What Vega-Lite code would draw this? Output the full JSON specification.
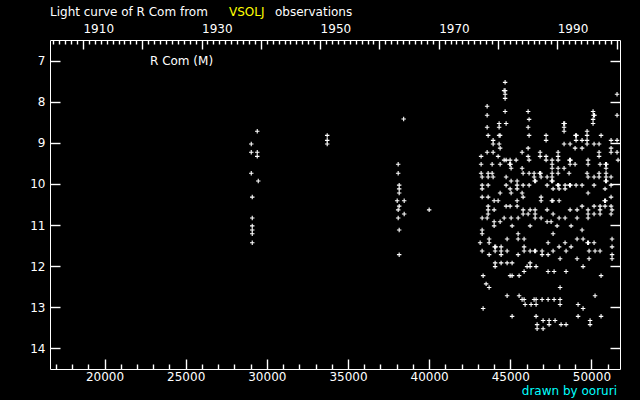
{
"$schema": "https://vega.github.io/schema/vega-lite/v6.json",
"width": 570, "height": 329,
"autosize": {"type": "none"},
"padding": {"left": 50, "top": 40, "right": 20, "bottom": 31},
"background": "black",
"config": {
  "view": {"stroke": "white", "strokeWidth": 1},
  "axis": {"domain": false, "grid": false, "labelColor": "white", "labelFont": "DejaVu Sans", "labelFontSize": 12, "labelOverlap": false, "labelFlush": false, "title": null},
  "text": {"font": "DejaVu Sans", "fontSize": 12}
},
"resolve": {"scale": {"x": "independent", "y": "independent"}},
"layer": [
  {"data": {"values": [
{"jd":29409,"m":8.72},{"jd":33720,"m":8.82},{"jd":33720,"m":8.94},{"jd":33720,"m":9.03},{"jd":29040,"m":9.03},{"jd":29040,"m":9.23},{"jd":29409,"m":9.23},{"jd":29409,"m":9.33},{"jd":29040,"m":9.74},{"jd":29471,"m":9.93},{"jd":29101,"m":10.32},{"jd":29101,"m":10.83},{"jd":29101,"m":11.02},{"jd":29101,"m":11.12},{"jd":29101,"m":11.21},{"jd":29101,"m":11.43},
{"jd":38092,"m":9.52},{"jd":38092,"m":9.74},{"jd":38154,"m":10.03},{"jd":38154,"m":10.12},{"jd":38154,"m":10.22},{"jd":38031,"m":10.41},{"jd":38462,"m":10.41},{"jd":38154,"m":10.54},{"jd":38092,"m":10.63},{"jd":40001,"m":10.63},{"jd":38462,"m":10.73},{"jd":38092,"m":10.83},{"jd":38154,"m":11.12},{"jd":38154,"m":11.72},{"jd":38431,"m":8.42},
{"jd":44681,"m":7.53},{"jd":44620,"m":7.73},{"jd":44681,"m":7.73},{"jd":44681,"m":7.82},{"jd":44681,"m":7.92},{"jd":43573,"m":8.11},{"jd":43573,"m":8.33},{"jd":44681,"m":8.24},{"jd":46098,"m":8.24},{"jd":46159,"m":8.43},{"jd":44312,"m":8.53},{"jd":44743,"m":8.53},{"jd":43573,"m":8.62},{"jd":44312,"m":8.62},{"jd":46098,"m":8.62},{"jd":43634,"m":8.82},{"jd":44312,"m":8.82},{"jd":44373,"m":8.82},{"jd":46159,"m":8.82},{"jd":47206,"m":8.82},{"jd":47206,"m":8.94},{"jd":43942,"m":8.94},{"jd":43942,"m":9.03},{"jd":44312,"m":9.03},{"jd":44373,"m":9.13},{"jd":46098,"m":9.13},{"jd":43573,"m":9.23},{"jd":43942,"m":9.23},{"jd":45728,"m":9.23},{"jd":46837,"m":9.23},{"jd":43203,"m":9.33},{"jd":44250,"m":9.33},{"jd":46098,"m":9.33},{"jd":46837,"m":9.33},{"jd":47206,"m":9.33},{"jd":44620,"m":9.42},{"jd":44743,"m":9.42},{"jd":44989,"m":9.42},{"jd":45359,"m":9.42},{"jd":46159,"m":9.42},{"jd":47206,"m":9.42},{"jd":43203,"m":9.52},{"jd":43881,"m":9.52},{"jd":44373,"m":9.52},{"jd":44960,"m":9.52},{"jd":45020,"m":9.52},{"jd":45051,"m":9.62},{"jd":45728,"m":9.62},{"jd":43203,"m":9.74},{"jd":43634,"m":9.74},{"jd":43881,"m":9.74},{"jd":45790,"m":9.74},{"jd":46159,"m":9.74},{"jd":46467,"m":9.74},{"jd":46810,"m":9.74},{"jd":46870,"m":9.74},{"jd":43265,"m":9.83},{"jd":43634,"m":9.83},{"jd":43942,"m":9.83},{"jd":44743,"m":9.83},{"jd":46467,"m":9.83},{"jd":46898,"m":9.83},{"jd":47268,"m":9.83},{"jd":45051,"m":9.93},{"jd":45420,"m":9.93},{"jd":46500,"m":9.93},{"jd":46560,"m":9.93},{"jd":43265,"m":10.03},{"jd":43634,"m":10.03},{"jd":44743,"m":10.03},{"jd":45420,"m":10.03},{"jd":45790,"m":10.03},{"jd":46159,"m":10.03},{"jd":47268,"m":10.03},{"jd":43265,"m":10.12},{"jd":44989,"m":10.12},{"jd":45420,"m":10.12},{"jd":44373,"m":10.22},{"jd":45051,"m":10.22},{"jd":45728,"m":10.22},{"jd":43265,"m":10.32},{"jd":43634,"m":10.32},{"jd":45790,"m":10.32},{"jd":46898,"m":10.32},{"jd":44004,"m":10.41},{"jd":44250,"m":10.41},{"jd":45420,"m":10.41},{"jd":46898,"m":10.41},
{"jd":43634,"m":10.54},{"jd":44743,"m":10.54},{"jd":44989,"m":10.54},{"jd":45420,"m":10.54},{"jd":43634,"m":10.63},{"jd":44004,"m":10.63},{"jd":45790,"m":10.63},{"jd":46221,"m":10.63},{"jd":46529,"m":10.63},{"jd":47268,"m":10.63},{"jd":43634,"m":10.73},{"jd":45790,"m":10.73},{"jd":46098,"m":10.73},{"jd":46529,"m":10.73},{"jd":43265,"m":10.83},{"jd":43573,"m":10.83},{"jd":44620,"m":10.83},{"jd":45051,"m":10.83},{"jd":45482,"m":10.83},{"jd":46529,"m":10.83},{"jd":46898,"m":10.83},{"jd":44004,"m":10.92},{"jd":44373,"m":10.92},{"jd":47268,"m":10.92},{"jd":44004,"m":11.02},{"jd":45112,"m":11.02},{"jd":46221,"m":11.02},{"jd":43265,"m":11.12},{"jd":43265,"m":11.21},{"jd":45482,"m":11.21},{"jd":43696,"m":11.34},{"jd":44804,"m":11.34},{"jd":45482,"m":11.34},{"jd":45851,"m":11.34},{"jd":43142,"m":11.43},{"jd":43696,"m":11.43},{"jd":47329,"m":11.43},{"jd":44040,"m":11.53},{"jd":44100,"m":11.53},{"jd":44435,"m":11.53},{"jd":45851,"m":11.53},{"jd":43265,"m":11.63},{"jd":44066,"m":11.63},{"jd":44435,"m":11.63},{"jd":44804,"m":11.63},{"jd":45851,"m":11.63},{"jd":46221,"m":11.63},{"jd":46500,"m":11.63},{"jd":46560,"m":11.63},{"jd":46960,"m":11.63},{"jd":43696,"m":11.72},{"jd":44435,"m":11.72},{"jd":45482,"m":11.72},{"jd":46960,"m":11.72},{"jd":47329,"m":11.72},{"jd":44066,"m":11.92},{"jd":44435,"m":11.92},{"jd":44804,"m":11.92},{"jd":45112,"m":11.92},{"jd":46221,"m":11.92},{"jd":44066,"m":12.01},{"jd":46036,"m":12.01},{"jd":46221,"m":12.01},{"jd":46590,"m":12.01},{"jd":47329,"m":12.13},{"jd":45851,"m":12.13},{"jd":43326,"m":12.23},{"jd":44989,"m":12.23},{"jd":45112,"m":12.23},{"jd":45543,"m":12.23},{"jd":43511,"m":12.43},{"jd":43696,"m":12.52},{"jd":44804,"m":12.72},{"jd":45543,"m":12.72},{"jd":45728,"m":12.81},{"jd":45851,"m":12.81},{"jd":46467,"m":12.81},{"jd":46590,"m":12.81},{"jd":46960,"m":12.81},{"jd":47329,"m":12.81},{"jd":45913,"m":12.93},{"jd":46282,"m":12.93},{"jd":46590,"m":12.93},{"jd":43326,"m":13.03},{"jd":45112,"m":13.22},{"jd":46590,"m":13.22},{"jd":47021,"m":13.32},{"jd":47391,"m":13.32},{"jd":46652,"m":13.42},{"jd":47391,"m":13.42},{"jd":46652,"m":13.52},{"jd":47021,"m":13.52},
{"jd":51578,"m":7.82},{"jd":51578,"m":8.33},{"jd":50100,"m":8.24},{"jd":50130,"m":8.33},{"jd":50190,"m":8.33},{"jd":50100,"m":8.43},{"jd":50100,"m":8.53},{"jd":48290,"m":8.53},{"jd":48350,"m":8.53},{"jd":48314,"m":8.62},{"jd":48314,"m":8.72},{"jd":49731,"m":8.72},{"jd":49731,"m":8.82},{"jd":49020,"m":8.82},{"jd":49080,"m":8.82},{"jd":50593,"m":8.82},{"jd":49053,"m":8.94},{"jd":49423,"m":8.94},{"jd":49731,"m":8.94},{"jd":51209,"m":8.94},{"jd":51578,"m":8.94},{"jd":48314,"m":9.03},{"jd":48684,"m":9.03},{"jd":49731,"m":9.03},{"jd":50162,"m":9.03},{"jd":50470,"m":9.03},{"jd":48992,"m":9.13},{"jd":49423,"m":9.13},{"jd":51209,"m":9.13},{"jd":47945,"m":9.23},{"jd":50470,"m":9.23},{"jd":51209,"m":9.23},{"jd":51578,"m":9.23},{"jd":47945,"m":9.33},{"jd":50470,"m":9.33},{"jd":47576,"m":9.42},{"jd":47945,"m":9.42},{"jd":48650,"m":9.42},{"jd":48710,"m":9.42},{"jd":49792,"m":9.42},{"jd":51640,"m":9.42},{"jd":47576,"m":9.52},{"jd":48684,"m":9.52},{"jd":48992,"m":9.52},{"jd":49792,"m":9.52},{"jd":50531,"m":9.52},{"jd":50870,"m":9.52},{"jd":50930,"m":9.52},{"jd":47576,"m":9.62},{"jd":47945,"m":9.62},{"jd":48314,"m":9.62},{"jd":50901,"m":9.62},{"jd":47576,"m":9.74},{"jd":47945,"m":9.74},{"jd":48622,"m":9.74},{"jd":49731,"m":9.74},{"jd":50470,"m":9.74},{"jd":50901,"m":9.74},{"jd":47576,"m":9.83},{"jd":49792,"m":9.83},{"jd":50162,"m":9.83},{"jd":50470,"m":9.83},{"jd":50901,"m":9.83},{"jd":51209,"m":9.83},{"jd":47550,"m":9.93},{"jd":47610,"m":9.93},{"jd":50870,"m":9.93},{"jd":50930,"m":9.93},{"jd":47920,"m":10.03},{"jd":47980,"m":10.03},{"jd":48376,"m":10.03},{"jd":48650,"m":10.03},{"jd":48710,"m":10.03},{"jd":49053,"m":10.03},{"jd":49423,"m":10.03},{"jd":50162,"m":10.03},{"jd":51209,"m":10.03},{"jd":47637,"m":10.12},{"jd":48007,"m":10.12},{"jd":48376,"m":10.12},{"jd":50839,"m":10.12},{"jd":49792,"m":10.22},{"jd":51209,"m":10.32},{"jd":47560,"m":10.41},{"jd":47620,"m":10.41},{"jd":48007,"m":10.41},{"jd":50810,"m":10.41},{"jd":50870,"m":10.41},
{"jd":47637,"m":10.73},{"jd":48007,"m":10.83},{"jd":48376,"m":10.83},{"jd":48684,"m":10.63},{"jd":49115,"m":10.63},{"jd":49423,"m":10.54},{"jd":49792,"m":10.63},{"jd":49792,"m":10.73},{"jd":49792,"m":10.83},{"jd":50162,"m":10.54},{"jd":50162,"m":10.73},{"jd":50531,"m":10.54},{"jd":50531,"m":10.63},{"jd":50531,"m":10.73},{"jd":50839,"m":10.54},{"jd":51209,"m":10.54},{"jd":51270,"m":10.63},{"jd":51209,"m":10.73},{"jd":49115,"m":10.83},{"jd":47514,"m":10.92},{"jd":47883,"m":11.02},{"jd":48746,"m":11.02},{"jd":49423,"m":11.12},{"jd":47637,"m":11.21},{"jd":49115,"m":11.34},{"jd":49485,"m":11.34},{"jd":48376,"m":11.43},{"jd":49760,"m":11.43},{"jd":49820,"m":11.43},{"jd":50162,"m":11.43},{"jd":51270,"m":11.34},{"jd":48007,"m":11.53},{"jd":48746,"m":11.53},{"jd":51270,"m":11.53},{"jd":47637,"m":11.63},{"jd":48438,"m":11.63},{"jd":49854,"m":11.63},{"jd":50223,"m":11.63},{"jd":50531,"m":11.63},{"jd":51270,"m":11.72},{"jd":48068,"m":11.82},{"jd":49115,"m":11.82},{"jd":49854,"m":11.82},{"jd":51270,"m":11.82},{"jd":49485,"m":12.01},{"jd":47699,"m":12.13},{"jd":48438,"m":12.13},{"jd":50593,"m":12.23},{"jd":48068,"m":12.52},{"jd":50223,"m":12.72},{"jd":47699,"m":12.81},{"jd":48068,"m":12.81},{"jd":48068,"m":12.93},{"jd":49177,"m":12.93},{"jd":49485,"m":13.03},{"jd":49177,"m":13.22},{"jd":50593,"m":13.22},{"jd":47760,"m":13.32},{"jd":49916,"m":13.32},{"jd":48130,"m":13.42},{"jd":48438,"m":13.42},{"jd":49916,"m":13.42}
  ]},
   "mark": {"type": "point", "shape": "M-1,0H1M0,-1V1", "filled": false, "stroke": "white", "strokeWidth": 1.1, "size": 20, "opacity": 1},
   "encoding": {
     "x": {"field": "jd", "type": "quantitative", "scale": {"domain": [16640, 51760], "nice": false, "zero": false},
       "axis": {"orient": "bottom", "values": [20000,25000,30000,35000,40000,45000,50000], "tickSize": -10, "tickColor": "white", "tickWidth": 1.4, "labelPadding": 12, "format": "d", "labelOverlap": false, "labelFlush": false}},
     "y": {"field": "m", "type": "quantitative", "scale": {"domain": [6.5, 14.5], "reverse": true, "nice": false, "zero": false},
       "axis": {"orient": "left", "values": [7,8,9,10,11,12,13,14], "tickSize": -10, "tickColor": "white", "tickWidth": 1.4, "labelPadding": 15, "labelOverlap": false, "labelFlush": false}}
   }},
  {"data": {"values": [{"t": "Light curve of R Com from", "x": 16640, "c": "w"}, {"t": "VSOLJ", "x": 27668, "c": "y"}, {"t": "observations", "x": 30502, "c": "w"}]},
   "mark": {"type": "text", "align": "left", "baseline": "middle"},
   "encoding": {"text": {"field": "t"},
     "x": {"field": "x", "type": "quantitative", "scale": {"domain": [16640, 51760], "nice": false, "zero": false}, "axis": null},
     "y": {"datum": 5.82, "type": "quantitative", "scale": {"domain": [6.5, 14.5], "reverse": true, "nice": false, "zero": false}, "axis": null},
     "color": {"field": "c", "type": "nominal", "scale": {"domain": ["w", "y"], "range": ["#ffffff", "#ffff00"]}, "legend": null}}},
  {"data": {"values": [{}]}, "mark": {"type": "text", "text": "R Com (M)", "align": "left", "baseline": "middle", "color": "white"},
   "encoding": {"x": {"datum": 22801, "type": "quantitative", "scale": {"domain": [16640, 51760], "nice": false, "zero": false}, "axis": null},
     "y": {"datum": 7.0, "type": "quantitative", "scale": {"domain": [6.5, 14.5], "reverse": true, "nice": false, "zero": false}, "axis": null}}},
  {"data": {"values": [{}]}, "mark": {"type": "text", "text": "drawn by ooruri", "align": "right", "baseline": "middle", "color": "#00ffff"},
   "encoding": {"x": {"datum": 51574, "type": "quantitative", "scale": {"domain": [16640, 51760], "nice": false, "zero": false}, "axis": null},
     "y": {"datum": 15.03, "type": "quantitative", "scale": {"domain": [6.5, 14.5], "reverse": true, "nice": false, "zero": false}, "axis": null}}},
 {"data": {"values": [{}]},
  "mark": {"type": "point", "opacity": 0},
  "encoding": {
    "x": {"datum": 30000, "type": "quantitative", "scale": {"domain": [16640, 51760], "nice": false, "zero": false},
      "axis": {"orient": "bottom", "values": [17000,18000,19000,21000,22000,23000,24000,26000,27000,28000,29000,31000,32000,33000,34000,36000,37000,38000,39000,41000,42000,43000,44000,46000,47000,48000,49000,51000], "tickSize": -5, "tickColor": "white", "tickWidth": 1.4, "labels": false}},
    "y": {"datum": 10, "type": "quantitative", "scale": {"domain": [6.5, 14.5], "reverse": true, "nice": false, "zero": false},
      "axis": {"orient": "right", "values": [7,8,9,10,11,12,13,14], "tickSize": -10, "tickColor": "white", "tickWidth": 1.4, "labels": false}}
  }},
 {"data": {"values": [{}]},
  "mark": {"type": "point", "opacity": 0},
  "encoding": {
    "x": {"datum": 1950, "type": "quantitative", "scale": {"domain": [1904.435, 2000.59], "nice": false, "zero": false},
      "axis": {"orient": "top", "values": [1910,1920,1930,1940,1950,1960,1970,1980,1990,2000], "tickSize": -9, "tickColor": "white", "tickWidth": 1.4,
        "labelExpr": "datum.value % 20 === 10 ? format(datum.value, 'd') : ''", "labelAlign": "left", "labelBaseline": "alphabetic", "labelPadding": 17, "labelOverlap": false, "labelFlush": false}},
    "y": {"datum": 10, "type": "quantitative", "scale": {"domain": [6.5, 14.5], "reverse": true, "nice": false, "zero": false}, "axis": null}
  }},
 {"data": {"values": [{}]},
  "mark": {"type": "point", "opacity": 0},
  "encoding": {
    "x": {"datum": 1950, "type": "quantitative", "scale": {"domain": [1904.435, 2000.59], "nice": false, "zero": false},
      "axis": {"orient": "top", "values": [1905,1906,1907,1908,1909,1911,1912,1913,1914,1915,1916,1917,1918,1919,1921,1922,1923,1924,1925,1926,1927,1928,1929,1931,1932,1933,1934,1935,1936,1937,1938,1939,1941,1942,1943,1944,1945,1946,1947,1948,1949,1951,1952,1953,1954,1955,1956,1957,1958,1959,1961,1962,1963,1964,1965,1966,1967,1968,1969,1971,1972,1973,1974,1975,1976,1977,1978,1979,1981,1982,1983,1984,1985,1986,1987,1988,1989,1991,1992,1993,1994,1995,1996,1997,1998,1999], "tickSize": -4, "tickColor": "white", "tickWidth": 1.4, "labels": false}},
    "y": {"datum": 10, "type": "quantitative", "scale": {"domain": [6.5, 14.5], "reverse": true, "nice": false, "zero": false}, "axis": null}
  }}
]
}
